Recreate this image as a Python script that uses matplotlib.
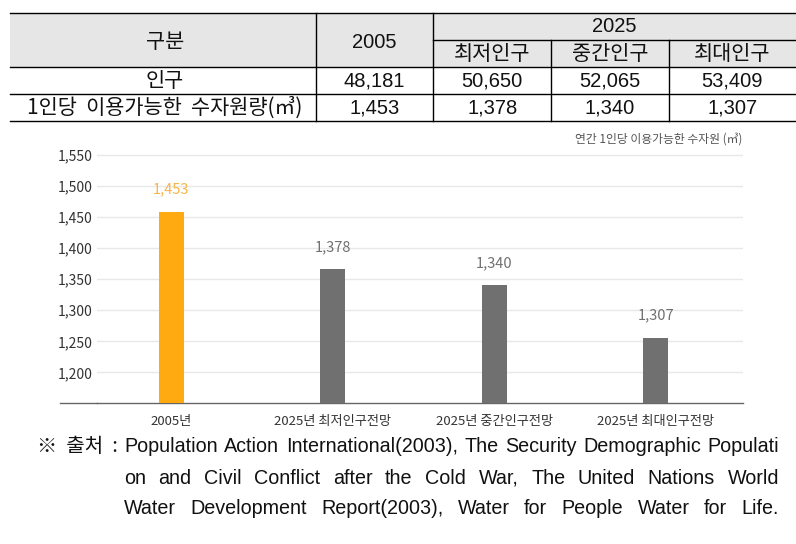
import matplotlib
matplotlib.use('Agg')
import matplotlib.pyplot as plt
from matplotlib import font_manager
from matplotlib.patches import Rectangle

# 막대 그래프 데이터 (그림에서 읽은 막대 높이와 표시된 값)
categories = ['2005년', '2025년 최저인구전망', '2025년 중간인구전망', '2025년 최대인구전망']
bar_values = [1459, 1366, 1341, 1256]
bar_labels = ['1,453', '1,378', '1,340', '1,307']
y_ticks = [1200, 1250, 1300, 1350, 1400, 1450, 1500, 1550]
y_tick_labels = ['1,200', '1,250', '1,300', '1,350', '1,400', '1,450', '1,500', '1,550']

# 표 데이터
header_year1 = '2005'
header_year2 = '2025'
sub_headers = ['최저인구', '중간인구', '최대인구']
row_names = ['인구', '1인당  이용가능한  수자원량(㎥)']
population = ['48,181', '50,650', '52,065', '53,409']
water = ['1,453', '1,378', '1,340', '1,307']

source_lines = [
    'Population Action International(2003), The Security Demographic Populati',
    'on and Civil Conflict after the Cold War, The United Nations World',
    'Water Development Report(2003), Water for People Water for Life.',
]

KR = ['Noto Sans CJK KR', 'DejaVu Sans']
names = {f.name for f in font_manager.fontManager.ttflist}
if 'Liberation Sans Narrow' in names:
    LAT = 'Liberation Sans Narrow'
    num_size = 17
else:
    LAT = 'Liberation Sans'
    num_size = 14.5
kr_size = 15

fig = plt.figure(figsize=(7.96, 5.44), dpi=100)

# 픽셀 좌표로 쓰는 바탕 축 (표, 주석)
bg = fig.add_axes([0, 0, 1, 1])
bg.set_xlim(0, 796)
bg.set_ylim(544, 0)
bg.axis('off')

left, right = 10, 796
top, mid, head_bot, row1_bot, bot = 13.3, 40, 66.7, 94.3, 121
c1, c2, c3, c4 = 315.7, 433.3, 551, 669

bg.add_patch(Rectangle((left, top), right - left, head_bot - top, fc='#e6e6e6', ec='none'))
lw = 1.0
for y in [top, head_bot, row1_bot, bot]:
    bg.plot([left, right], [y, y], color='black', lw=lw)
bg.plot([c2, right], [mid, mid], color='black', lw=lw)
for x in [c1, c2]:
    bg.plot([x, x], [top, bot], color='black', lw=lw)
for x in [c3, c4]:
    bg.plot([x, x], [mid, bot], color='black', lw=lw)

col_centers = [(c1 + c2) / 2, (c2 + c3) / 2, (c3 + c4) / 2, (c4 + right) / 2]
name_center = (left + c1) / 2 + 2

bg.text(name_center, 42, '구분', ha='center', va='center', fontsize=kr_size, family=KR, color='#111')
bg.text(col_centers[0], 42, header_year1, ha='center', va='center', fontsize=num_size, family=LAT, color='#111')
bg.text((c2 + right) / 2, 27, header_year2, ha='center', va='center', fontsize=num_size, family=LAT, color='#111')
for x, s in zip(col_centers[1:], sub_headers):
    bg.text(x, 54, s, ha='center', va='center', fontsize=kr_size, family=KR, color='#111')

for y, name, vals in [(81, row_names[0], population), (108, row_names[1], water)]:
    bg.text(name_center, y, name, ha='center', va='center', fontsize=kr_size, family=KR, color='#111')
    for x, v in zip(col_centers, vals):
        bg.text(x, y, v, ha='center', va='center', fontsize=num_size, family=LAT, color='#111')

# 막대 그래프
ax_bottom, ax_top = 403.4, 148.8
ax = fig.add_axes([97 / 796, 1 - ax_bottom / 544, 646 / 796, (ax_bottom - ax_top) / 544])
colors = ['#FFAA11', '#707070', '#707070', '#707070']
label_colors = ['#F6B546', '#707070', '#707070', '#707070']
x = list(range(len(categories)))
ax.bar(x, bar_values, width=0.155, color=colors, zorder=3)
for i, (v, lab) in enumerate(zip(bar_values, bar_labels)):
    ax.annotate(lab, (i, v), xytext=(0, 15.8), textcoords='offset points',
                ha='center', va='center', fontsize=10.5, color=label_colors[i], family=KR)

ax.set_ylim(1150, 1560)
ax.set_xlim(-0.46, 3.54)
ax.set_yticks(y_ticks)
ax.set_yticklabels(y_tick_labels, family=KR, fontsize=10, color='#333')
ax.set_xticks(x)
ax.set_xticklabels(categories, family=KR, fontsize=9.5, color='#333')
ax.tick_params(axis='both', length=0)
ax.tick_params(axis='y', pad=3)
ax.tick_params(axis='x', pad=8)
ax.yaxis.grid(True, color='#e8e8e8', lw=1)
ax.set_axisbelow(True)
for s in ['top', 'left', 'right']:
    ax.spines[s].set_visible(False)
ax.spines['bottom'].set_color('#666666')
ax.spines['bottom'].set_linewidth(1.0)
ax.patch.set_alpha(0)
bg.plot([60, 97], [ax_bottom, ax_bottom], color='#666666', lw=1.0)

bg.text(742, 139, '연간 1인당 이용가능한 수자원 (㎥)', ha='right', va='center',
        fontsize=8.5, color='#555555', family=KR)

# 출처 (양쪽 정렬)
renderer = fig.canvas.get_renderer()
bg.text(37, 447, '※  출처  :', ha='left', va='center', fontsize=14.5, family=KR, color='#111')

src_x0, src_x1 = 124, 779

# 가장 긴 줄이 자연 간격으로 폭에 맞도록 글자 크기 결정
probe = bg.text(0, 0, source_lines[0], fontsize=10, family=LAT)
w10 = probe.get_window_extent(renderer).width
probe.remove()
src_size = 10 * (src_x1 - src_x0) / w10 * 0.99


def justify(line, x0, x1, y):
    words = line.split(' ')
    texts = [bg.text(0, y, w, ha='left', va='center', fontsize=src_size, family=LAT, color='#111')
             for w in words]
    widths = [t.get_window_extent(renderer).width for t in texts]
    gap = (x1 - x0 - sum(widths)) / (len(words) - 1)
    pos = x0
    for t, w in zip(texts, widths):
        t.set_x(pos)
        pos += w + gap


for k, line in enumerate(source_lines):
    justify(line, src_x0, src_x1, 447 + 31 * k)

fig.savefig('out.png', dpi=100)
